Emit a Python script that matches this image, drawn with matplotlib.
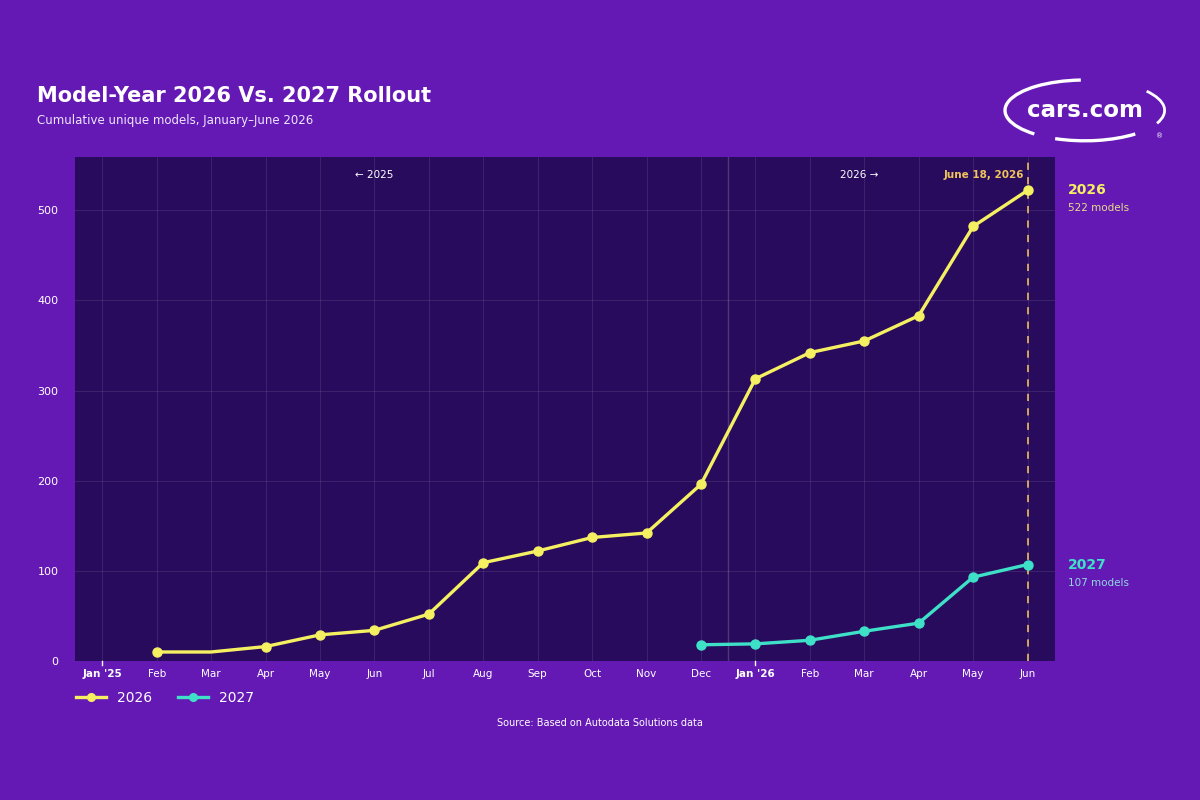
import matplotlib.pyplot as plt
from matplotlib.patches import Arc

months = ["Jan '25", "Feb", "Mar", "Apr", "May", "Jun", "Jul", "Aug", "Sep", "Oct",
          "Nov", "Dec", "Jan '26", "Feb", "Mar", "Apr", "May", "Jun"]
my2026 = [None, 10, 10, 16, 29, 34, 52, 109, 122, 137, 142, 196, 313, 342, 355, 383, 482, 522]
my2027 = [None] * 11 + [18, 19, 23, 33, 42, 93, 107]

BG = "#6419b4"
PLOT_BG = "#290b5e"
YELLOW = "#f4f062"
TEAL = "#3fe0c8"
GOLD = "#f0c45a"

fig = plt.figure(figsize=(12, 8), dpi=100, facecolor=BG)
ax = fig.add_axes([0.0625, 0.17375, 0.8165, 0.63])
ax.set_facecolor(PLOT_BG)

x = list(range(len(months)))
x26 = [i for i, v in zip(x, my2026) if v is not None]
y26 = [v for v in my2026 if v is not None]
x27 = [i for i, v in zip(x, my2027) if v is not None]
y27 = [v for v in my2027 if v is not None]

ax.plot(x26, y26, color=YELLOW, lw=2.4, marker="o", ms=6.5,
        markevery=[i for i in range(len(x26)) if i != 1], label="2026", zorder=4)
ax.plot(x27, y27, color=TEAL, lw=2.4, marker="o", ms=6.5, label="2027", zorder=4)

ax.set_xlim(-0.5, 17.5)
ax.set_ylim(0, 559)

ax.set_xticks(x)
ax.set_xticklabels(months)
ax.set_yticks([0, 100, 200, 300, 400, 500])
ax.tick_params(axis="both", length=0, colors="white", labelsize=7.5, pad=6)
ax.tick_params(axis="y", labelsize=8, pad=12)
for lbl in ax.get_xticklabels():
    if "'" in lbl.get_text():
        lbl.set_fontweight("bold")
for xi in (0, 12):
    ax.plot([xi, xi], [-0.008, 0.0], transform=ax.get_xaxis_transform(),
            color="white", lw=1, clip_on=False)

ax.grid(True, color="#ffffff", alpha=0.09, lw=0.8)
ax.axvline(11.5, color="#ffffff", alpha=0.18, lw=1)
for s in ax.spines.values():
    s.set_visible(False)

ax.axvline(17, color=GOLD, ls=(0, (4, 4)), lw=1.3, alpha=0.9, zorder=3)
ax.text(16.93, 0.975, "June 18, 2026", transform=ax.get_xaxis_transform(),
        ha="right", va="top", color=GOLD, fontsize=7.5, fontweight="bold")
ax.text(5.0, 0.975, "\u2190 2025", transform=ax.get_xaxis_transform(),
        ha="center", va="top", color="white", fontsize=7.5)
ax.text(13.9, 0.975, "2026 \u2192", transform=ax.get_xaxis_transform(),
        ha="center", va="top", color="white", fontsize=7.5)

# end labels
ax.annotate("2026", xy=(17, y26[-1]), xytext=(29, 0), textcoords="offset points",
            color=YELLOW, fontsize=10, fontweight="bold", va="center", annotation_clip=False)
ax.annotate(f"{y26[-1]} models", xy=(17, y26[-1]), xytext=(29, -13), textcoords="offset points",
            color="#e8dc8a", fontsize=7.5, va="center", annotation_clip=False)
ax.annotate("2027", xy=(17, y27[-1]), xytext=(29, 0), textcoords="offset points",
            color=TEAL, fontsize=10, fontweight="bold", va="center", annotation_clip=False)
ax.annotate(f"{y27[-1]} models", xy=(17, y27[-1]), xytext=(29, -13), textcoords="offset points",
            color="#8fd8e0", fontsize=7.5, va="center", annotation_clip=False)

leg = ax.legend(loc="upper left", bbox_to_anchor=(-0.012, -0.035), ncol=2, frameon=False,
                fontsize=10, labelcolor="white", handlelength=2.2, columnspacing=1.8,
                markerscale=0.85)

fig.text(0.031, 0.88, "Model-Year 2026 Vs. 2027 Rollout", color="white",
         fontsize=15, fontweight="bold", va="center")
fig.text(0.031, 0.849, "Cumulative unique models, January\u2013June 2026", color="#eee6ff",
         fontsize=8.5, va="center")
fig.text(0.5, 0.096, "Source: Based on Autodata Solutions data", color="white",
         fontsize=7, ha="center", va="center")

# cars.com logo
fig.text(0.904, 0.862, "cars.com", color="white", fontsize=16.5, fontweight="semibold",
         ha="center", va="center")
fig.add_artist(Arc((0.904, 0.862), 0.133, 0.076, theta1=95, theta2=215,
                   transform=fig.transFigure, color="white", lw=2.4))
fig.add_artist(Arc((0.904, 0.862), 0.133, 0.076, theta1=235, theta2=325,
                   transform=fig.transFigure, color="white", lw=2.4))
fig.add_artist(Arc((0.904, 0.862), 0.133, 0.076, theta1=345, theta2=25,
                   transform=fig.transFigure, color="white", lw=2.0))
fig.text(0.966, 0.829, "\u00ae", color="white", fontsize=5, ha="center", va="center")

fig.savefig("out.png", dpi=100, facecolor=BG)
